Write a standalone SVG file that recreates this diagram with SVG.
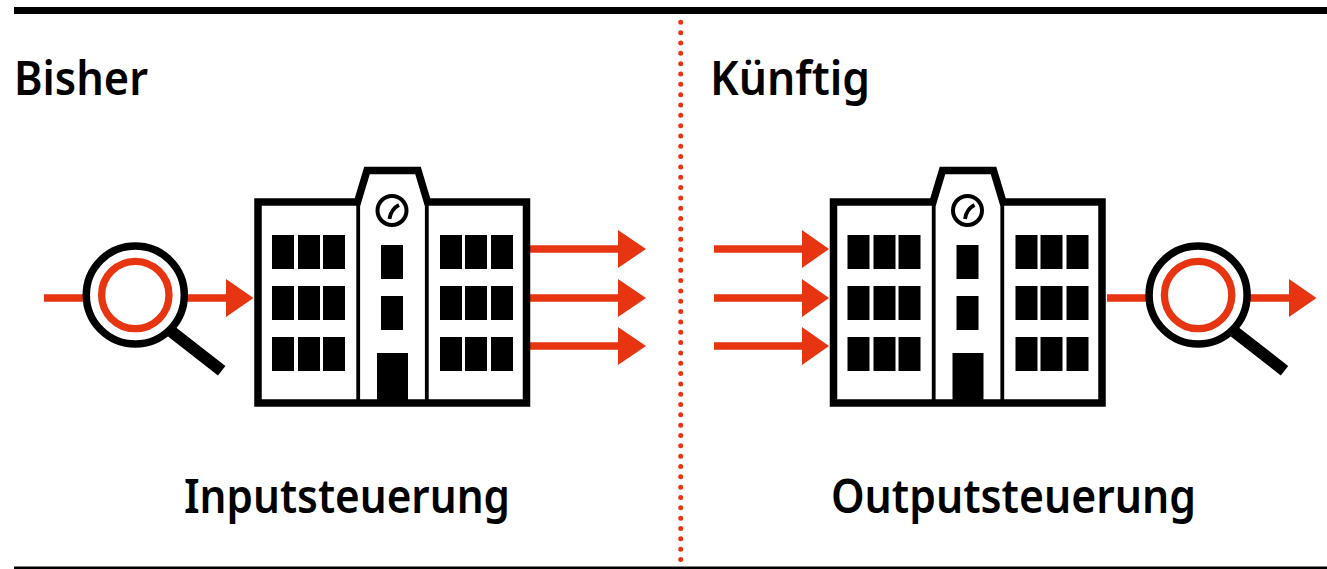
<svg xmlns="http://www.w3.org/2000/svg" xmlns:xlink="http://www.w3.org/1999/xlink" width="1327" height="569" viewBox="0 0 1327 569">
<style>
.t{font-family:"Noto Sans","Open Sans",sans-serif;font-weight:600;fill:#000;font-size:46px}
.flow{stroke:#e83511;stroke-width:7.5;fill:none}
.head{fill:#e83511}
.win{fill:#000}
.blk{stroke:#000;fill:none}
</style>
<defs>
<g id="building">
<path d="M258 202H357.500L367 170.500H418L427.500 202H526.500V403H258Z" fill="#fff" stroke="#000" stroke-width="7.500"/>
<path d="M358.200 200V402M426.800 200V402" class="blk" stroke-width="3.800"/>
<path class="win" d="M272 235h22v34h-22zM298 235h22v34h-22zM323 235h22v34h-22zM272 286h22v34h-22zM298 286h22v34h-22zM323 286h22v34h-22zM272 337h22v34h-22zM298 337h22v34h-22zM323 337h22v34h-22zM440 235h22v34h-22zM465 235h22v34h-22zM491 235h22v34h-22zM440 286h22v34h-22zM465 286h22v34h-22zM491 286h22v34h-22zM440 337h22v34h-22zM465 337h22v34h-22zM491 337h22v34h-22zM381 245h22v34h-22zM381 296h22v34h-22zM377 353h31v50h-31z"/>
<circle cx="392" cy="210.500" r="14.500" fill="#fff" stroke="#000" stroke-width="4"/>
<path d="M389.500 219Q391 209 399 205" class="blk" stroke-width="3.800"/>
</g>
<g id="lens">
<path d="M171.700 331.700L221.700 370.700" class="blk" stroke-width="12"/>
<circle cx="135.300" cy="295" r="49" fill="#fff" stroke="#000" stroke-width="7.500"/>
<circle cx="135.300" cy="295" r="33.700" fill="#fff" stroke="#e83511" stroke-width="7.300"/>
</g>
</defs>
<rect width="1327" height="569" fill="#fff"/>
<rect x="14" y="7" width="1313" height="7" fill="#000"/>
<rect x="14" y="566.500" width="1313" height="2.500" fill="#000"/>
<path d="M680.700 14V566" stroke="#e83511" stroke-width="5" stroke-linecap="round" stroke-dasharray="0 10.330" stroke-dashoffset="2" fill="none"/>
<g id="connectors">
<path class="flow" d="M44 298H230M530 249H622M530 298H622M530 346H622M714 249H806M714 298H806M714 346H806M1107 298H1293"/>
<path class="head" d="M226 279L253.500 298L226 317ZM618 230L646 249L618 268ZM618 279L646 298L618 317ZM618 327L646 346L618 365ZM802 230L829 249L802 268ZM802 279L829 298L802 317ZM802 327L829 346L802 365ZM1289 279L1316.500 298L1289 317Z"/>
</g>
<g id="building-left"><use xlink:href="#building"/></g>
<g id="building-right"><use xlink:href="#building" x="575.500"/></g>
<g id="lens-left"><use xlink:href="#lens"/></g>
<g id="lens-right"><use xlink:href="#lens" x="1062.800"/></g>
<text class="t" x="14" y="95" textLength="134" lengthAdjust="spacingAndGlyphs">Bisher</text>
<text class="t" x="710" y="95" textLength="160" lengthAdjust="spacingAndGlyphs">Künftig</text>
<text class="t" x="184" y="512.500" textLength="326" lengthAdjust="spacingAndGlyphs">Inputsteuerung</text>
<text class="t" x="831" y="512.500" textLength="365" lengthAdjust="spacingAndGlyphs">Outputsteuerung</text>
</svg>
